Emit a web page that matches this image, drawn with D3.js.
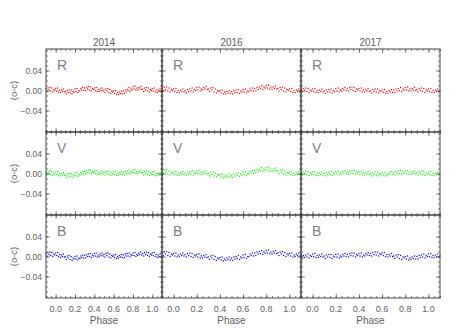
<!DOCTYPE html>
<html>
<head>
<meta charset="utf-8">
<script src="https://cdn.jsdelivr.net/npm/d3@7"></script>
<style>
  body { margin: 0; background: #fff; }
  text { font-family: "Liberation Sans", Arial, sans-serif; fill: #606060; }
</style>
</head>
<body>
<svg id="chart" width="463" height="331"></svg>
<script>
// column titles, band names and colours
const years = ['2014', '2016', '2017'];
const bands = ['R', 'V', 'B'];
const bandColors = ['#ff0000', '#00ff00', '#0000ff'];

const xTicks = [0, 0.2, 0.4, 0.6, 0.8, 1.0];
const yTicks = [-0.04, 0, 0.04];

// o-c residuals in units of 0.001 mag, phase 0.00 .. 0.99 (step 0.01)
const r2014 = [4,-1,5,-3,1, -4,1,-2,3,-3, -2,-7,0,-4,1, -5,1,-7,-2,-4, 3,-2,4,-4,0,
  -1,4,1,6,0, 5,0,7,3,8, 1,7,-1,4,2, 5,0,6,-2,2, -2,3,0,5,-1,
  1,-4,3,-1,4, -4,2,-6,-1,-3, -1,-6,0,-8,-4, -8,-3,-6,-1,-7, -1,-6,1,-3,2,
  0,6,-2,3,1, 8,3,9,1,5, 1,6,3,8,2, 3,-2,5,1,6, -1,5,-3,2,0];
const r2016 = [3,-2,4,-4,0, -4,1,-2,3,-3, 0,-5,2,-2,3, -1,5,-3,2,0, 6,1,7,-1,3,
  1,6,3,8,2, 3,-2,5,1,6, -3,3,-5,0,-2, 0,-5,1,-7,-3, -7,-2,-5,0,-6,
  -2,-7,0,-4,1, -4,2,-6,-1,-3, 2,-3,3,-5,-1, -2,3,0,5,-1, 4,-1,6,2,7,
  4,10,2,7,5, 10,5,11,3,7, 2,7,4,9,3, 4,-1,6,2,7, -1,5,-3,2,0];
const r2017 = [3,-2,4,-4,0, -4,1,-2,3,-3, -1,-6,1,-3,2, -3,3,-5,0,-2, 4,-1,5,-3,1,
  -1,4,1,6,0, 4,-1,6,2,7, 0,6,-2,3,1, 4,-1,5,-3,1, -3,2,-1,4,-2,
  0,-5,2,-2,3, -3,3,-5,0,-2, 1,-4,2,-6,-2, -5,0,-3,2,-4, 1,-4,3,-1,4,
  0,6,-2,3,1, 6,1,7,-1,3, -1,4,1,6,0, 2,-3,4,0,5, -2,4,-4,1,-1];

const v2014 = [3,-2,4,-4,0, -5,0,-3,2,-4, -3,-8,-1,-5,0, -6,0,-8,-3,-5, 1,-4,2,-6,-2,
  -3,2,-1,4,-2, 4,-1,6,2,7, 1,7,-1,4,2, 5,0,6,-2,2, -2,3,0,5,-1,
  2,-3,4,0,5, -2,4,-4,1,-1, 3,-2,4,-4,0, -3,2,-1,4,-2, 2,-3,4,0,5,
  1,7,-1,4,2, 7,2,8,0,4, 0,5,2,7,1, 2,-3,4,0,5, -2,4,-4,1,-1];
const v2016 = [3,-2,4,-4,0, -3,2,-1,4,-2, 1,-4,3,-1,4, -1,5,-3,2,0, 5,0,6,-2,2,
  -2,3,0,5,-1, 0,-5,2,-2,3, -5,1,-7,-2,-4, -2,-7,-1,-9,-5, -8,-3,-6,-1,-7,
  -3,-8,-1,-5,0, -4,2,-6,-1,-3, 3,-2,4,-4,0, -1,4,1,6,0, 6,1,8,4,9,
  6,12,4,9,7, 12,7,13,5,9, 4,9,6,11,5, 5,0,7,3,8, -1,5,-3,2,0];
const v2017 = [3,-2,4,-4,0, -4,1,-2,3,-3, 0,-5,2,-2,3, -2,4,-4,1,-1, 4,-1,5,-3,1,
  -1,4,1,6,0, 3,-2,5,1,6, 0,6,-2,3,1, 4,-1,5,-3,1, -3,2,-1,4,-2,
  0,-5,2,-2,3, -3,3,-5,0,-2, 2,-3,3,-5,-1, -3,2,-1,4,-2, 2,-3,4,0,5,
  0,6,-2,3,1, 5,0,6,-2,2, -2,3,0,5,-1, 2,-3,4,0,5, -2,4,-4,1,-1];

const b2014 = [7,2,8,0,4, -2,3,0,5,-1, -1,-6,1,-3,2, -6,0,-8,-3,-5, 0,-5,1,-7,-3,
  -4,1,-2,3,-3, 2,-3,4,0,5, 0,6,-2,3,1, 6,1,7,-1,3, 0,5,2,7,1,
  4,-1,6,2,7, -1,5,-3,2,0, 3,-2,4,-4,0, -3,2,-1,4,-2, 3,-2,5,1,6,
  1,7,-1,4,2, 7,2,8,0,4, 2,7,4,9,3, 6,1,8,4,9, 2,8,0,5,3];
const b2016 = [6,1,7,-1,3, 0,5,2,7,1, 4,-1,6,2,7, 0,6,-2,3,1, 4,-1,5,-3,1,
  -3,2,-1,4,-2, -1,-6,1,-3,2, -6,0,-8,-3,-5, -2,-7,-1,-9,-5, -8,-3,-6,-1,-7,
  -3,-8,-1,-5,0, -4,2,-6,-1,-3, 3,-2,4,-4,0, 0,5,2,7,1, 7,2,9,5,10,
  6,12,4,9,7, 12,7,13,5,9, 5,10,7,12,6, 7,2,9,5,10, 2,8,0,5,3];
const b2017 = [5,0,6,-2,2, -2,3,0,5,-1, 1,-4,3,-1,4, -2,4,-4,1,-1, 4,-1,5,-3,1,
  -1,4,1,6,0, 4,-1,6,2,7, 1,7,-1,4,2, 6,1,7,-1,3, 1,6,3,8,2,
  6,1,8,4,9, 3,9,1,6,4, 7,2,8,0,4, -1,4,1,6,0, 1,-4,3,-1,4,
  -4,2,-6,-1,-3, 0,-5,1,-7,-3, -6,-1,-4,1,-5, 0,-5,2,-2,3, -1,5,-3,2,0];

const series = [
  [r2014, r2016, r2017],
  [v2014, v2016, v2017],
  [b2014, b2016, b2017]
];

// layout
const colEdges = [46, 162, 301, 440];
const rowEdges = [49, 132, 215, 298];
const axisColor = '#333';

const svg = d3.select('#chart');

function drawPanel(row, col) {
  const x0 = colEdges[col], x1 = colEdges[col + 1];
  const y0 = rowEdges[row], y1 = rowEdges[row + 1];

  const x = d3.scaleLinear().domain([-0.1, 1.1]).range([x0, x1]);
  const y = d3.scaleLinear().domain([-0.083, 0.083]).range([y1, y0]);

  const g = svg.append('g');

  // data points, folded over phase so the window -0.1..1.1 is filled
  const values = series[row][col];
  const pts = [];
  values.forEach((v, i) => {
    const ph = i / 100;
    [ph - 1, ph, ph + 1].forEach((p) => {
      if (p >= -0.1 && p <= 1.1) pts.push({ p: p, v: v / 1000 });
    });
  });

  g.selectAll('rect.pt')
    .data(pts)
    .join('rect')
    .attr('class', 'pt')
    .attr('x', (d) => x(d.p) - 0.6)
    .attr('y', (d) => y(d.v) - 0.6)
    .attr('width', 1.2)
    .attr('height', 1.2)
    .attr('fill', bandColors[row]);

  // IDL style ticks, pointing inwards on all sides
  const xMinor = d3.range(-0.1, 1.1001, 0.05);
  const yMinor = d3.range(-0.08, 0.0801, 0.01);

  const sides = [
    [d3.axisBottom, x, y1, 'x'],
    [d3.axisTop, x, y0, 'x'],
    [d3.axisLeft, y, x0, 'y'],
    [d3.axisRight, y, x1, 'y']
  ];

  sides.forEach(([ax, sc, pos, dim]) => {
    const tr = dim === 'x' ? `translate(0,${pos})` : `translate(${pos},0)`;
    const major = dim === 'x' ? xTicks : yTicks;
    const minor = dim === 'x' ? xMinor : yMinor;

    g.append('g')
      .attr('transform', tr)
      .call(ax(sc).tickValues(minor).tickSize(-2).tickSizeOuter(0).tickFormat(''))
      .call((s) => s.select('.domain').remove());

    g.append('g')
      .attr('transform', tr)
      .call(ax(sc).tickValues(major).tickSize(-4).tickSizeOuter(0).tickFormat(''))
      .call((s) => s.select('.domain').remove());
  });

  g.selectAll('.tick line').attr('stroke', axisColor).attr('stroke-width', 0.6);

  g.append('rect')
    .attr('x', x0)
    .attr('y', y0)
    .attr('width', x1 - x0)
    .attr('height', y1 - y0)
    .attr('fill', 'none')
    .attr('stroke', axisColor)
    .attr('stroke-width', 0.9);

  // band letter
  g.append('text')
    .attr('x', x0 + 11)
    .attr('y', y0 + 21)
    .attr('font-size', 14)
    .style('fill', '#808080')
    .text(bands[row]);

  // tick labels
  if (row === 2) {
    xTicks.forEach((t) => {
      g.append('text')
        .attr('x', x(t))
        .attr('y', 312)
        .attr('text-anchor', 'middle')
        .attr('font-size', 9)
        .text(d3.format('.1f')(t));
    });
    g.append('text')
      .attr('x', (x0 + x1) / 2)
      .attr('y', 324)
      .attr('text-anchor', 'middle')
      .attr('font-size', 10)
      .text('Phase');
  }

  if (col === 0) {
    yTicks.forEach((t) => {
      g.append('text')
        .attr('x', x0 - 4)
        .attr('y', y(t) + 3)
        .attr('text-anchor', 'end')
        .attr('font-size', 8.5)
        .text(d3.format('.2f')(t).replace('-', '\u2212'));
    });
    g.append('text')
      .attr('transform', `translate(17,${(y0 + y1) / 2}) rotate(-90)`)
      .attr('text-anchor', 'middle')
      .attr('font-size', 9.5)
      .text('(o-c)');
  }

  if (row === 0) {
    g.append('text')
      .attr('x', (x0 + x1) / 2)
      .attr('y', 46)
      .attr('text-anchor', 'middle')
      .attr('font-size', 10)
      .text(years[col]);
  }
}

for (let r = 0; r < 3; r++) {
  for (let c = 0; c < 3; c++) {
    drawPanel(r, c);
  }
}
</script>
</body>
</html>
